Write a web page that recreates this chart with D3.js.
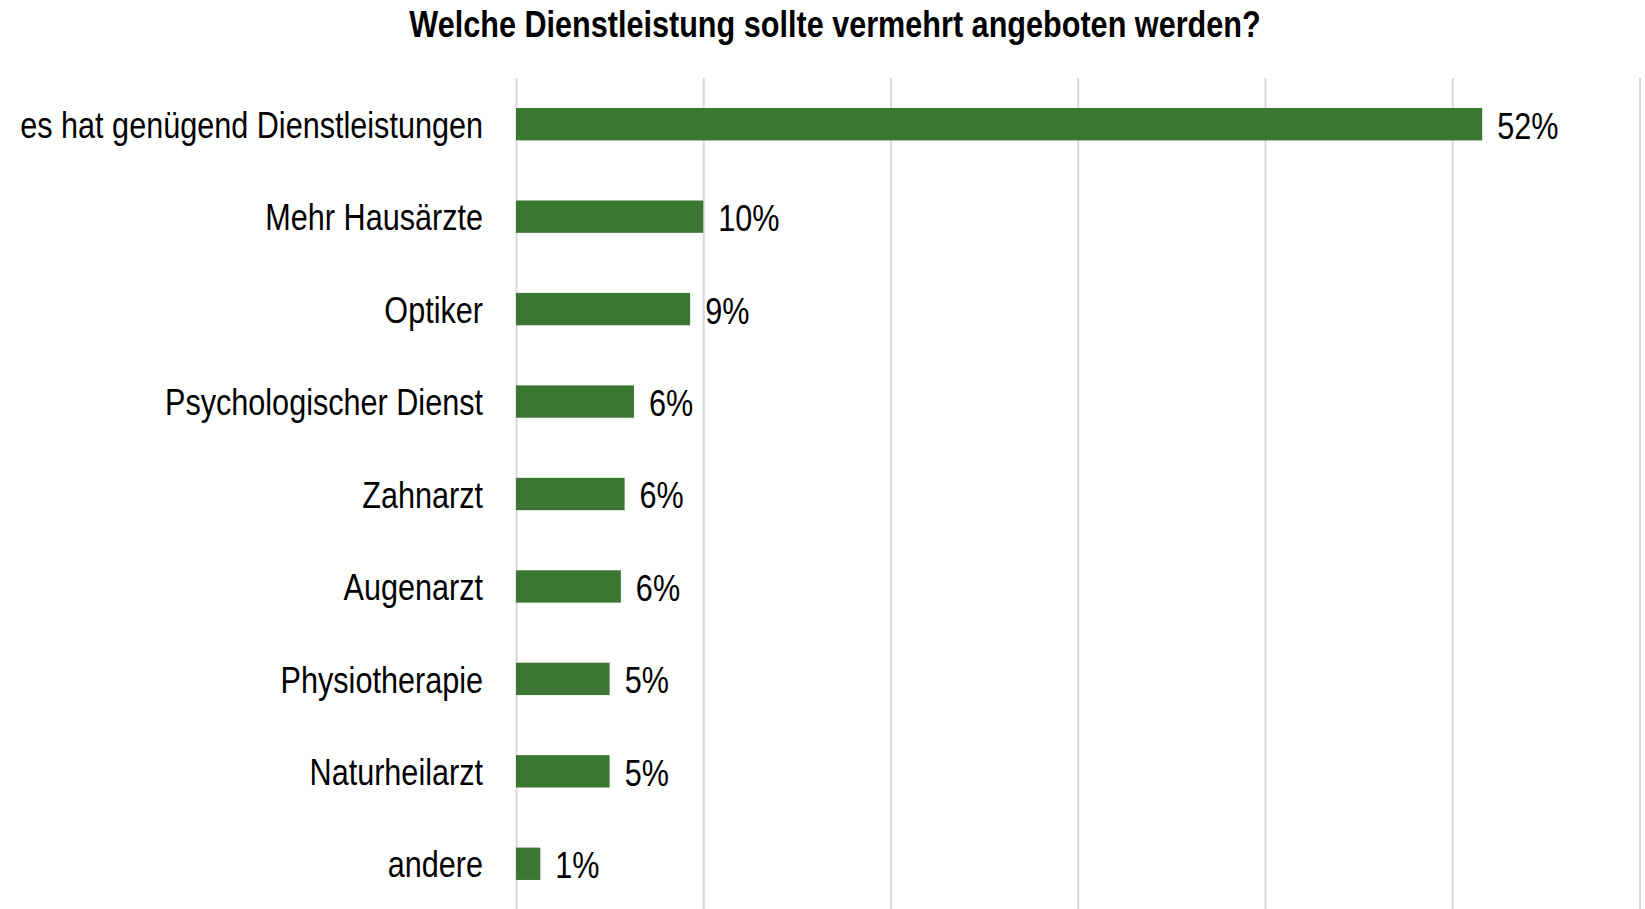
<!DOCTYPE html>
<html>
<head>
<meta charset="utf-8">
<script src="https://cdn.jsdelivr.net/npm/d3@7"></script>
<style>
  body { margin: 0; background: #fff; }
  svg text { font-family: "Liberation Sans Narrow", "Arial Narrow", "Liberation Sans", sans-serif; fill: #000; }
</style>
</head>
<body>
<div id="chart"></div>
<script>
// Daten aus der Umfrage
const categories = ["es hat genügend Dienstleistungen", "Mehr Hausärzte", "Optiker", "Psychologischer Dienst",
  "Zahnarzt", "Augenarzt", "Physiotherapie", "Naturheilarzt", "andere"];
const shares = [0.516, 0.100, 0.093, 0.063, 0.058, 0.056, 0.050, 0.050, 0.013];
const gridTicks = [0, 0.1, 0.2, 0.3, 0.4, 0.5, 0.6];
const chartTitle = "Welche Dienstleistung sollte vermehrt angeboten werden?";

const data = categories.map((c, i) => ({ name: c, value: shares[i] }));

let dimensions = {
  width: 1645,
  height: 909,
  margin: { top: 78, left: 516, right: 5, bottom: -1 }
};

// keine Narrow-Schrift vorhanden -> Text horizontal stauchen
function narrow(selection, factor) {
  selection.each(function() {
    const w = this.getComputedTextLength();
    d3.select(this)
      .attr("textLength", w * factor)
      .attr("lengthAdjust", "spacingAndGlyphs");
  });
}

const svg = d3.select("#chart")
  .append("svg")
  .attr("width", dimensions.width)
  .attr("height", dimensions.height);

const x = d3.scaleLinear()
  .domain([0, 0.6])
  .range([dimensions.margin.left, 1639.5]);

const y = d3.scaleBand()
  .domain(categories)
  .range([dimensions.margin.top, dimensions.height - dimensions.margin.bottom])
  .paddingInner(0.65)
  .paddingOuter(0.325);

// Gitterlinien
const grid = svg.append("g")
  .attr("transform", `translate(0, ${dimensions.height - dimensions.margin.bottom})`)
  .call(d3.axisBottom(x)
    .tickValues(gridTicks)
    .tickSize(-(dimensions.height - dimensions.margin.bottom - dimensions.margin.top))
    .tickFormat(""));
grid.select(".domain").remove();
grid.selectAll(".tick line")
  .attr("stroke", "#d9d9d9")
  .attr("stroke-width", 2);

// Balken
svg.selectAll(".bar")
  .data(data)
  .enter()
  .append("rect")
  .attr("class", "bar")
  .attr("x", x(0))
  .attr("y", d => y(d.name))
  .attr("width", d => x(d.value) - x(0))
  .attr("height", y.bandwidth())
  .attr("fill", "#3b7632");

// Werte
svg.selectAll(".value")
  .data(data)
  .enter()
  .append("text")
  .attr("class", "value")
  .attr("x", d => x(d.value) + 15)
  .attr("y", d => y(d.name) + y.bandwidth() / 2)
  .attr("dy", "0.4em")
  .style("font-size", "36px")
  .text(d => d3.format(".0%")(d.value))
  .call(narrow, 0.85);

// Kategorien
const yAxis = svg.append("g")
  .attr("transform", `translate(${x(0)}, 0)`)
  .call(d3.axisLeft(y).tickSize(0).tickPadding(33));
yAxis.select(".domain").remove();
yAxis.selectAll("text")
  .attr("dy", "0.38em")
  .style("font-size", "36px")
  .style("fill", "#000")
  .call(narrow, 0.85);

// Titel
svg.append("text")
  .attr("x", 835)
  .attr("y", 37)
  .attr("text-anchor", "middle")
  .style("font-size", "36px")
  .style("font-weight", "bold")
  .text(chartTitle)
  .call(narrow, 0.85);
</script>
</body>
</html>
